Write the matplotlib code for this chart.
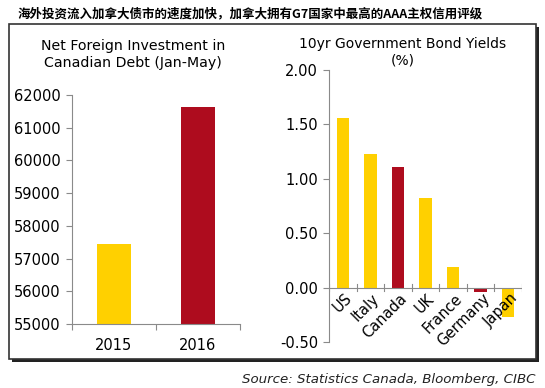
import matplotlib
matplotlib.use('Agg')
from matplotlib import pyplot
from matplotlib.patches import Rectangle

# data
years = ['2015', '2016']
investment = [57450, 61620]
invest_ticks = [55000, 56000, 57000, 58000, 59000, 60000, 61000, 62000]

countries = ['US', 'Italy', 'Canada', 'UK', 'France', 'Germany', 'Japan']
yields = [1.56, 1.23, 1.11, 0.82, 0.19, -0.04, -0.27]
yield_ticks = [-0.5, 0.0, 0.5, 1.0, 1.5, 2.0]

YELLOW = '#FFD000'
RED = '#AE0C1E'
AXIS = '#8a8a8a'

pyplot.rcParams['font.family'] = ['DejaVu Sans']

fig = pyplot.figure(figsize=(5.45, 3.88), dpi=100)

# outer frame with shadow
fig.patches.append(Rectangle((12 / 545, 1 - 362 / 388), 527 / 545, 335 / 388, transform=fig.transFigure,
                             facecolor='#222222', edgecolor='none', zorder=0))
fig.patches.append(Rectangle((9 / 545, 1 - 359 / 388), 527 / 545, 335 / 388, transform=fig.transFigure,
                             facecolor='white', edgecolor='#333333', linewidth=1.2, zorder=1))

fig.text(0.033, 0.965, '海外投资流入加拿大债市的速度加快，加拿大拥有G7国家中最高的AAA主权信用评级',
         fontsize=9, fontweight='bold', family=['Noto Sans CJK SC', 'DejaVu Sans'], va='center', ha='left')

# left chart
ax1 = fig.add_axes([72 / 545, 1 - 324 / 388, 168 / 545, 229 / 388])
ax1.set_zorder(2)
ax1.patch.set_alpha(0)
ax1.bar(range(len(years)), investment, width=0.4, color=[YELLOW, RED])
ax1.set_ylim(55000, 62000)
ax1.set_xlim(-0.5, 1.5)
ax1.set_yticks(invest_ticks)
ax1.set_xticks([-0.5, 0.5, 1.5], minor=False)
ax1.set_xticklabels([])
ax1.set_xticks(range(len(years)), minor=True)
ax1.set_xticklabels(years, minor=True)
ax1.tick_params(axis='x', which='minor', length=0, labelsize=10.5, pad=10)
ax1.tick_params(axis='x', which='major', length=4, color=AXIS, direction='out')
ax1.tick_params(axis='y', length=4, color=AXIS, labelsize=10.5, pad=4)
for s in ['top', 'right']:
    ax1.spines[s].set_visible(False)
for s in ['left', 'bottom']:
    ax1.spines[s].set_color(AXIS)
fig.text(133 / 545, 1 - 46 / 388, 'Net Foreign Investment in',
         ha='center', va='center', fontsize=10.2)
fig.text(133 / 545, 1 - 63 / 388, 'Canadian Debt (Jan-May)',
         ha='center', va='center', fontsize=10.2)

# right chart
ax2 = fig.add_axes([329 / 545, 1 - 342 / 388, 193 / 545, 272 / 388])
ax2.set_zorder(2)
ax2.patch.set_alpha(0)
ax2.bar(range(len(countries)), yields, width=0.45,
        color=[RED if c in ('Canada', 'Germany') else YELLOW for c in countries])
ax2.set_ylim(-0.5, 2.0)
ax2.set_xlim(-0.5, len(countries) - 0.5)
ax2.set_yticks(yield_ticks)
ax2.set_yticklabels(['%.2f' % v for v in yield_ticks])
ax2.tick_params(axis='y', length=4, color=AXIS, labelsize=10.5, pad=4)
ax2.set_xticks([])
for s in ['top', 'right', 'bottom']:
    ax2.spines[s].set_visible(False)
ax2.spines['left'].set_color(AXIS)
ax2.axhline(0, color=AXIS, linewidth=0.8)
for i in range(len(countries) + 1):
    ax2.plot([i - 0.5, i - 0.5], [-0.03, 0.03], color=AXIS, linewidth=0.8)
for i, name in enumerate(countries):
    ax2.text(i + 0.05, -0.03, name, rotation=45, rotation_mode='anchor',
             ha='right', va='top', fontsize=10.5)
fig.text(403 / 545, 1 - 44 / 388, '10yr Government Bond Yields',
         ha='center', va='center', fontsize=10)
fig.text(403 / 545, 1 - 60 / 388, '(%)',
         ha='center', va='center', fontsize=10)

fig.text(536 / 545, 1 - 380 / 388, 'Source: Statistics Canada, Bloomberg, CIBC',
         ha='right', va='center', fontsize=9.6, style='italic', color='#222222')

fig.savefig('out.png', dpi=100)
